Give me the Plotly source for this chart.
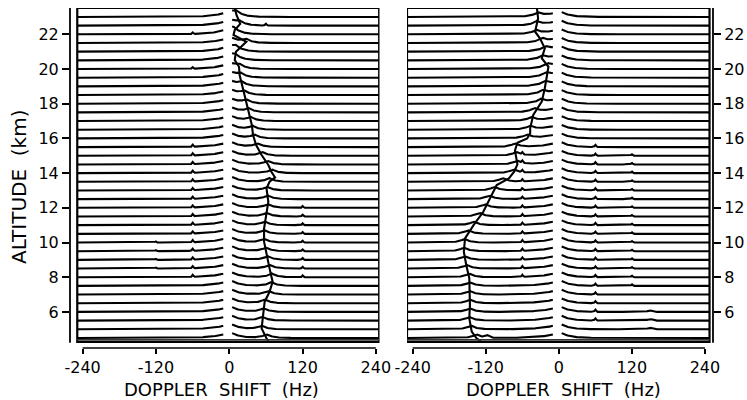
import numpy as np
import plotly.graph_objects as go

# ---------------- data ----------------
# altitudes (km) of the stacked spectra baselines
LINE_ALT = [4.5, 5.0, 5.5, 6.0, 6.5, 7.0, 7.5, 8.0, 8.5, 9.0, 9.5, 10.0, 10.5,
            11.0, 11.5, 12.0, 12.5, 13.0, 13.5, 14.0, 14.5, 15.0, 15.5, 16.0,
            16.5, 17.0, 17.5, 18.0, 18.5, 19.0, 19.5, 20.0, 20.5, 21.0, 21.5,
            22.0, 22.5, 23.0]

# Doppler shift (Hz) of the spectral peak on each line
LEFT_PEAK = [61, 53, 54, 56, 58, 64, 69, 70, 66, 63, 60, 57, 57, 58, 61, 63,
             63, 62, 66, 70, 63, 54, 46, 41, 38, 35, 32, 28, 24, 20, 18, 16,
             9, 11, 27, 7, 16, 12]
RIGHT_PEAK = [-135, -144, -147, -146, -146, -146, -146, -147, -151, -154,
              -156, -155, -149, -140, -130, -121, -114, -106, -92, -74, -68,
              -70, -72, -52, -47, -45, -40, -29, -26, -22, -20, -18, -26,
              -21, -27, -37, -36, -34]

# mean Doppler profile (ridge joining the peaks)
LEFT_RIDGE_ALT = [4.3, 4.48, 5.05, 5.82, 6.59, 7.16, 7.74, 8.51, 9.28, 10.05,
                  10.8, 11.58, 12.35, 13.12, 13.5, 13.75, 14.08, 14.47, 15.04,
                  15.62, 16.2, 16.77, 17.35, 17.92, 18.5, 19.08, 19.65, 20.13,
                  20.52, 21.0, 21.29, 21.57, 21.96, 22.25, 22.6, 23.1, 23.52]
LEFT_RIDGE_HZ = [64, 61, 53, 55, 58, 66, 71, 66, 61, 57, 57, 61, 64, 61, 66,
                 75, 69, 64, 53, 44, 39, 37, 33, 28, 24, 20, 17, 16, 9, 11,
                 20, 28, 7, 9, 18, 12, 9]
RIGHT_RIDGE_ALT = [4.3, 4.48, 4.86, 5.63, 6.4, 7.16, 7.94, 8.7, 9.47, 10.24,
                   11.0, 11.77, 12.55, 13.31, 13.7, 14.1, 14.5, 14.9, 15.3,
                   15.75, 16.0, 16.3, 16.58, 17.35, 18.12, 18.89, 19.46,
                   20.13, 20.62, 21.19, 21.77, 22.15, 22.92, 23.52]
RIGHT_RIDGE_HZ = [-128, -135, -143, -147, -146, -146, -147, -152, -156, -154,
                  -140, -124, -113, -102, -82, -73, -68, -70, -72, -68, -52,
                  -47, -47, -42, -28, -23, -20, -17, -28, -23, -31, -39, -34,
                  -36]

# interference spikes: (Hz, lowest alt, highest alt, height km, half width Hz)
LEFT_SPIKES = [(-60, 8.0, 15.5, 0.13, 2.5), (-60, 20.0, 20.0, 0.09, 2.5),
               (-60, 22.0, 22.0, 0.09, 2.5), (120, 8.0, 12.0, 0.11, 2.5),
               (-120, 8.5, 10.0, 0.06, 2.5), (60, 22.5, 22.5, 0.11, 2.5)]
RIGHT_SPIKES = [(-60, 8.0, 15.0, 0.13, 2.5), (60, 5.5, 15.5, 0.13, 2.5),
                (120, 7.5, 15.0, 0.09, 2.5), (150, 5.0, 6.0, 0.10, 8.0),
                (-118, 4.5, 4.5, 0.15, 8.0)]

X_TICKS = [-240, -120, 0, 120, 240]
X_TICKTEXT = ["-240", "-120", "0", "120", "240"]
Y_TICKS = [6, 8, 10, 12, 14, 16, 18, 20, 22]
Y_TICKTEXT = ["6", "8", "10", "12", "14", "16", "18", "20", "22"]

X_TITLE = "DOPPLER\u00a0\u00a0SHIFT\u00a0\u00a0(Hz)"
Y_TITLE = "ALTITUDE\u00a0\u00a0(km)"

# ---------------- styling / geometry ----------------
GAP_LO, GAP_HI = -9.5, 4.5
Y_RANGE = [3.92, 23.516]
FRAME_BOTTOM = 4.265
LEFT_FRAME = (-248.8, 245.5)
RIGHT_FRAME = (-249.3, 247.5)
FONT = "DejaVu Sans"
LW = 2.1


def spectrum_traces(peaks, spikes, frame, xa, ya):
    f = np.arange(frame[0], frame[1] + 0.01, 0.5)
    xs, ys = [], []
    for h, p in zip(LINE_ALT, peaks):
        y = np.full_like(f, h)
        y += 0.22 * np.exp(-np.abs(f - p) / 9.0)
        left = f <= GAP_LO
        right = f >= GAP_HI
        y[left] += 0.2 * np.exp((f[left] - GAP_LO) / 22.0)
        y[right] += 0.28 * np.exp(-(f[right] - GAP_HI) / 14.0)
        for fs, a0, a1, amp, w in spikes:
            if a0 - 0.01 <= h <= a1 + 0.01:
                y += amp * np.clip(1 - np.abs(f - fs) / w, 0, None)
        for m in (left, right):
            xs.extend(f[m].tolist() + [None])
            ys.extend(y[m].tolist() + [None])
    return go.Scatter(x=xs, y=ys, mode="lines", xaxis=xa, yaxis=ya,
                      line=dict(color="black", width=LW), hoverinfo="skip")


fig = go.Figure()
fig.add_trace(spectrum_traces(LEFT_PEAK, LEFT_SPIKES, LEFT_FRAME, "x", "y"))
fig.add_trace(spectrum_traces(RIGHT_PEAK, RIGHT_SPIKES, RIGHT_FRAME, "x2", "y2"))
fig.add_trace(go.Scatter(x=LEFT_RIDGE_HZ, y=LEFT_RIDGE_ALT, mode="lines",
                         xaxis="x", yaxis="y",
                         line=dict(color="black", width=LW)))
fig.add_trace(go.Scatter(x=RIGHT_RIDGE_HZ, y=RIGHT_RIDGE_ALT, mode="lines",
                         xaxis="x2", yaxis="y2",
                         line=dict(color="black", width=LW)))

tickfont = dict(family=FONT, size=16, color="black")
common_x = dict(tickvals=X_TICKS, ticktext=X_TICKTEXT, ticks="outside",
                ticklen=5, tickwidth=1.5, tickcolor="black", showgrid=False,
                zeroline=False, showline=False, tickfont=tickfont,
                automargin=False)
common_y = dict(tickvals=Y_TICKS, ticktext=Y_TICKTEXT, ticks="outside",
                ticklen=7, tickwidth=1.5, tickcolor="black", showgrid=False,
                zeroline=False, showline=False, tickfont=tickfont,
                range=Y_RANGE, domain=[0, 1], automargin=False)

shapes = []
for xr, yr, fr in (("x", "y", LEFT_FRAME), ("x2", "y2", RIGHT_FRAME)):
    shapes.append(dict(type="rect", xref=xr, yref=yr, x0=fr[0], x1=fr[1],
                       y0=FRAME_BOTTOM, y1=Y_RANGE[1],
                       line=dict(color="black", width=2.2)))
    shapes.append(dict(type="line", xref=xr, yref=yr, x0=fr[0], x1=fr[1],
                       y0=4.39, y1=4.39, line=dict(color="#333", width=1.6)))
    shapes.append(dict(type="line", xref=xr, yref=yr + " domain", x0=-240,
                       x1=240, y0=0, y1=0, line=dict(color="black", width=1.6)))
# vertical axis lines
shapes.append(dict(type="line", xref="x domain", yref="y", x0=0, x1=0,
                   y0=4.22, y1=Y_RANGE[1], line=dict(color="black", width=1.8)))
shapes.append(dict(type="line", xref="x2 domain", yref="y2", x0=1, x1=1,
                   y0=4.22, y1=Y_RANGE[1], line=dict(color="black", width=1.8)))

L, R, T, B = 70, 34, 8, 52
PW, PH = 747 - L - R, 400 - T - B


def px(xp):
    return (xp - L) / PW


def py(yp):
    return (400 - B - yp) / PH


title_font = dict(family=FONT, size=18, color="black")
annotations = [
    dict(text=X_TITLE, xref="paper", yref="paper", x=px(221), y=py(389),
         showarrow=False, xanchor="center", yanchor="middle", font=title_font),
    dict(text=X_TITLE, xref="paper", yref="paper", x=px(563), y=py(389),
         showarrow=False, xanchor="center", yanchor="middle", font=title_font),
    dict(text=Y_TITLE, xref="paper", yref="paper", x=px(19), y=py(187),
         showarrow=False, textangle=-90, xanchor="center", yanchor="middle",
         font=dict(family=FONT, size=20, color="black")),
]

fig.update_layout(
    template="none",
    width=747, height=400,
    margin=dict(l=L, r=R, t=T, b=B, autoexpand=False),
    plot_bgcolor="white", paper_bgcolor="white", showlegend=False,
    font=dict(family=FONT, color="black"),
    xaxis=dict(domain=[0, (379.5 - L) / PW], range=[-260.7, 246.0],
               anchor="y", **common_x),
    xaxis2=dict(domain=[(407 - L) / PW, 1.0], range=[-249.3, 253.2],
                anchor="y2", **common_x),
    yaxis=dict(anchor="x", **common_y),
    yaxis2=dict(anchor="x2", side="right", **common_y),
    shapes=shapes, annotations=annotations,
)

fig.write_html("out.html", config={"displayModeBar": False},
               post_script="document.body.style.margin='0px';"
                           "document.body.style.overflow='hidden';")
